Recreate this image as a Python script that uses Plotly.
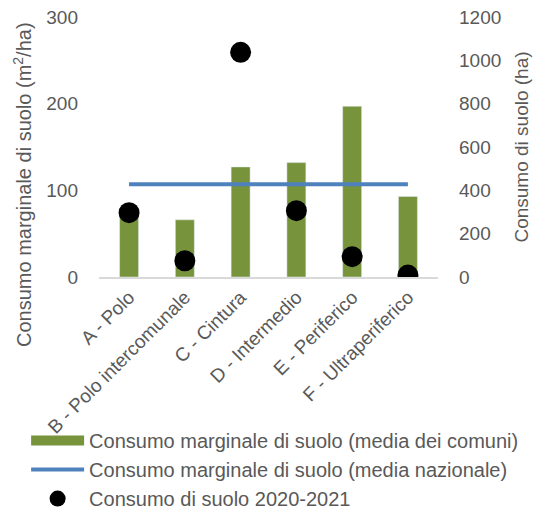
import plotly.graph_objects as go

categories = ["A - Polo", "B - Polo intercomunale", "C - Cintura", "D - Intermedio", "E - Periferico", "F - Ultraperiferico"]
marginale_comuni = [76, 66, 127, 132, 197, 93]
marginale_nazionale = [107, 107, 107, 107, 107, 107]
consumo_2020_2021 = [297, 75, 1037, 306, 94, 9]

name_bar = "Consumo marginale di suolo (media dei comuni)"
name_line = "Consumo marginale di suolo (media nazionale)"
name_dot = "Consumo di suolo 2020-2021"
title_left = "Consumo marginale di suolo (m<sup>2</sup>/ha)"
title_right = "Consumo di suolo (ha)"

FONT = "Liberation Sans, Arial, sans-serif"
GREEN = "#77933C"
BLUE = "#4F81BD"
GRAY = "#595959"

fig = go.Figure()
fig.add_trace(go.Bar(x=categories, y=marginale_comuni, marker_color=GREEN, showlegend=False, yaxis="y"))
fig.add_trace(go.Scatter(x=categories, y=marginale_nazionale, mode="lines", line=dict(color=BLUE, width=4),
                         showlegend=False, yaxis="y"))
fig.add_trace(go.Scatter(x=categories, y=consumo_2020_2021, mode="markers",
                         marker=dict(color="black", size=21), showlegend=False, yaxis="y2"))
# legend entries
fig.add_trace(go.Scatter(x=[None], y=[None], mode="lines", line=dict(color=GREEN, width=13), name=name_bar))
fig.add_trace(go.Scatter(x=[None], y=[None], mode="lines", line=dict(color=BLUE, width=4), name=name_line))
fig.add_trace(go.Scatter(x=[None], y=[None], mode="markers", marker=dict(color="black", size=21), name=name_dot))

fig.update_layout(
    width=537, height=502,
    margin=dict(l=91, r=107, t=9, b=233, autoexpand=False),
    plot_bgcolor="white", paper_bgcolor="white",
    font=dict(family=FONT, size=19, color=GRAY),
    bargap=0.66,
    xaxis=dict(showgrid=False, showline=True, linecolor="#D9D9D9", linewidth=1.5, tickangle=-45,
               ticks="", tickfont=dict(size=19), automargin=False, ticklabeloverflow="allow"),
    yaxis=dict(range=[0, 300], dtick=100, showgrid=False, zeroline=False, showline=False,
               ticklabelstandoff=20, tickfont=dict(size=19), automargin=False, ticklabeloverflow="allow"),
    yaxis2=dict(range=[0, 1200], dtick=200, overlaying="y", side="right", showgrid=False, zeroline=False,
                ticklabelstandoff=20, tickfont=dict(size=19), automargin=False, ticklabeloverflow="allow",
                title=dict(text=title_right, standoff=14, font=dict(size=19))),
    legend=dict(x=-0.215, xanchor="left", y=-0.554, yanchor="top",
                itemwidth=53, font=dict(size=20), tracegroupgap=0, bgcolor="rgba(0,0,0,0)"),
    annotations=[dict(text=title_left, textangle=-90, xref="paper", yref="paper",
                      x=-0.224, y=0.354, xanchor="center", yanchor="middle", showarrow=False,
                      font=dict(size=20, color=GRAY))],
)
fig.write_html("out.html")
